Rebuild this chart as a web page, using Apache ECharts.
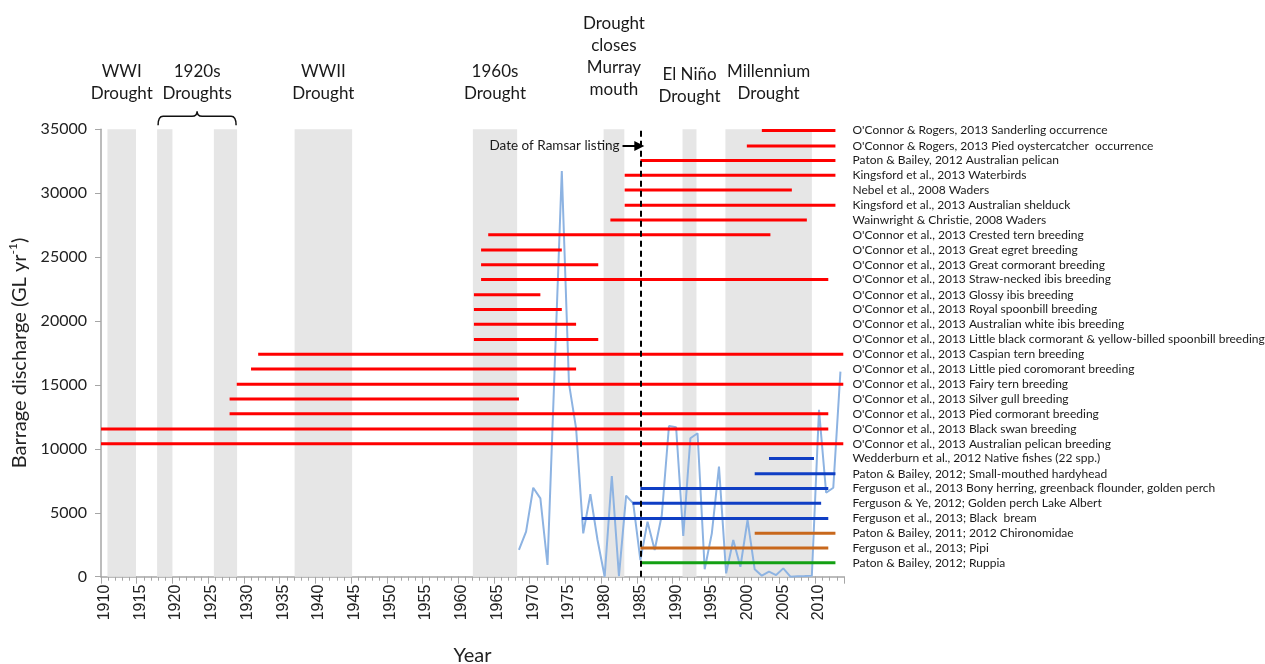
<!DOCTYPE html>
<html><head><meta charset="utf-8">
<script src="https://cdn.jsdelivr.net/npm/echarts@6/dist/echarts.min.js"></script>
<style>html,body{margin:0;padding:0;background:#fff}#c{width:1265px;height:664px}</style>
</head><body><div id="c"></div>
<script>
// ---- Data ----
const tickYears = [];
for (let y = 1910; y <= 2013; y++) tickYears.push(String(y));

const dischargeYears = [1968,1969,1970,1971,1972,1973,1974,1975,1976,1977,1978,1979,1980,1981,1982,1983,1984,1985,1986,1987,1988,1989,1990,1991,1992,1993,1994,1995,1996,1997,1998,1999,2000,2001,2002,2003,2004,2005,2006,2007,2008,2009,2010,2011,2012,2013];
const dischargeGL = [2090,3520,6960,6130,915,16300,31740,15130,11610,3390,6450,2870,0,7880,50,6340,5740,1300,4300,2090,4830,11790,11690,3180,10830,11220,580,3390,8610,260,2870,780,4440,580,80,390,130,650,0,30,50,80,13050,6570,6960,16040];

// Drought shading (grey bands), in years
const droughtStart = [1910.4, 1917.35, 1925.3, 1936.6, 1961.55, 1979.85, 1990.9, 1996.9];
const droughtEnd   = [1914.4, 1919.5, 1928.55, 1944.65, 1967.75, 1982.75, 1992.85, 2009.0];

// Drought titles above the chart, each spanning a year range
const titleText  = ['WWI\nDrought', '1920s\nDroughts', 'WWII\nDrought', '1960s\nDrought', 'Drought\ncloses\nMurray\nmouth', 'El Niño\nDrought', 'Millennium\nDrought'];
const titleStart = [1910.4, 1917.35, 1936.6, 1961.55, 1979.85, 1990.9, 1996.9];
const titleEnd   = [1914.4, 1928.55, 1944.65, 1967.75, 1982.75, 1992.85, 2009.0];
const braceSpan  = [[1917.35, 1928.55]];

const ramsarYear = 1985;
const ramsarArrowStart = 1982.5;
const ramsarArrowY = 33700;

// Study periods
const studyLabels = [
 "O'Connor & Rogers, 2013 Sanderling occurrence",
 "O'Connor & Rogers, 2013 Pied oystercatcher  occurrence",
 "Paton & Bailey, 2012 Australian pelican",
 "Kingsford et al., 2013 Waterbirds",
 "Nebel et al., 2008 Waders",
 "Kingsford et al., 2013 Australian shelduck",
 "Wainwright & Christie, 2008 Waders",
 "O'Connor et al., 2013 Crested tern breeding",
 "O'Connor et al., 2013 Great egret breeding",
 "O'Connor et al., 2013 Great cormorant breeding",
 "O'Connor et al., 2013 Straw-necked ibis breeding",
 "O'Connor et al., 2013 Glossy ibis breeding",
 "O'Connor et al., 2013 Royal spoonbill breeding",
 "O'Connor et al., 2013 Australian white ibis breeding",
 "O'Connor et al., 2013 Little black cormorant & yellow-billed spoonbill breeding",
 "O'Connor et al., 2013 Caspian tern breeding",
 "O'Connor et al., 2013 Little pied coromorant breeding",
 "O'Connor et al., 2013 Fairy tern breeding",
 "O'Connor et al., 2013 Silver gull breeding",
 "O'Connor et al., 2013 Pied cormorant breeding",
 "O'Connor et al., 2013 Black swan breeding",
 "O'Connor et al., 2013 Australian pelican breeding",
 "Wedderburn et al., 2012 Native fishes (22 spp.)",
 "Paton & Bailey, 2012; Small-mouthed hardyhead",
 "Ferguson et al., 2013 Bony herring, greenback flounder, golden perch",
 "Ferguson & Ye, 2012; Golden perch Lake Albert",
 "Ferguson et al., 2013; Black  bream",
 "Paton & Bailey, 2011; 2012 Chironomidae",
 "Ferguson et al., 2013; Pipi",
 "Paton & Bailey, 2012; Ruppia"
];
const studyY = [34900,33700,32550,31400,30250,29050,27900,26750,25550,24400,23250,22050,20900,19750,18550,17400,16250,15050,13900,12750,11550,10400,9250,8050,6900,5750,4550,3400,2250,1100];
const studyStart = [2002.0,1999.9,1985.0,1982.8,1982.8,1982.8,1980.8,1963.7,1962.7,1962.7,1962.7,1961.7,1961.7,1961.7,1961.7,1931.5,1930.5,1928.5,1927.5,1927.5,1909.5,1909.5,2003.0,2001.0,1985.0,1983.9,1976.8,2001.0,1985.0,1985.0];
const studyEnd   = [2012.3,2012.3,2012.3,2012.3,2006.2,2012.3,2008.3,2003.2,1974.0,1979.1,2011.3,1971.0,1974.0,1976.0,1979.1,2013.4,1976.0,2013.4,1968.0,2011.3,2011.3,2013.4,2009.3,2012.3,2011.3,2010.3,2011.3,2012.3,2011.3,2012.3];
const studyGroup = ['bird','bird','bird','bird','bird','bird','bird','bird','bird','bird','bird','bird','bird','bird','bird','bird','bird','bird','bird','bird','bird','bird','fish','fish','fish','fish','fish','invert','invert','plant'];

// ---- Styles ----
const groupColor = {bird:'#ff0000', fish:'#0f3ec4', invert:'#c8681c', plant:'#13a013'};
const FONT = 'Lato, "Open Sans", sans-serif';
const xMin = 1909.5, xMax = 2013.5;

const chart = echarts.init(document.getElementById('c'), null, {renderer:'canvas'});

const areaData = [];
droughtStart.forEach((s, i) => {
  areaData.push([{xAxis: s, yAxis: 0, itemStyle:{color:'#e6e6e6'}, label:{show:false}}, {xAxis: droughtEnd[i], yAxis: 35000}]);
});
const titleDist = [25, 25, 25, 25, 29, 22, 25];
titleText.forEach((t, i) => {
  areaData.push([{xAxis: titleStart[i], yAxis: 0, name: t, itemStyle:{color:'rgba(0,0,0,0)'},
    label:{show:true, position:'top', distance: titleDist[i]}}, {xAxis: titleEnd[i], yAxis: 35000}]);
});

const option = {
  animation: false,
  grid: {left: 101, right: 421, top: 129.3, bottom: 87.3, containLabel: false, outerBoundsMode: 'none'},
  xAxis: [
    {type:'value', min:xMin, max:xMax, show:false},
    {type:'category', data: tickYears, boundaryGap: true, position:'bottom',
      axisLine:{show:true, lineStyle:{color:'#a6a6a6', width:1.5}},
      axisTick:{show:true, interval:0, length:4, lineStyle:{color:'#a6a6a6'}},
      axisLabel:{interval:4, rotate:90, margin:8, fontSize:16, color:'#222', fontFamily:'"Liberation Sans", Arial, sans-serif'},
      splitLine:{show:false},
      name:'Year', nameLocation:'middle', nameGap:69,
      nameTextStyle:{fontSize:20, color:'#222', fontFamily:FONT}},
    {type:'category', data: tickYears, boundaryGap: true, position:'bottom',
      axisLine:{show:false}, axisLabel:{show:false},
      axisTick:{show:true, interval:4, length:7, lineStyle:{color:'#a6a6a6'}}, splitLine:{show:false}}
  ],
  yAxis: {type:'value', min:0, max:35000, interval:5000,
    axisLine:{show:true, lineStyle:{color:'#a6a6a6', width:1.5}},
    axisTick:{show:true, length:6, lineStyle:{color:'#a6a6a6'}},
    axisLabel:{fontSize:16, color:'#222', margin:14, fontFamily:FONT, formatter: v => String(v)},
    splitLine:{show:false},
    name:'{a|Barrage discharge (GL yr}{b|-1}{a|)}', nameLocation:'middle', nameGap:66, nameRotate:90,
    nameTextStyle:{rich:{a:{fontSize:20, color:'#222', fontFamily:FONT, lineHeight:26},
                         b:{fontSize:12, color:'#222', fontFamily:FONT, verticalAlign:'top', lineHeight:14}}}},
  series: [
    {type:'line', name:'discharge', xAxisIndex:0, yAxisIndex:0, z:2,
      data: dischargeYears.map((y, i) => [y, dischargeGL[i]]),
      showSymbol:false, symbol:'none',
      lineStyle:{color:'#8db3e2', width:2},
      markArea:{silent:true, label:{fontSize:17, lineHeight:22, color:'#1a1a1a', fontFamily:FONT}, data: areaData}},
    {type:'custom', xAxisIndex:0, yAxisIndex:0, z:3,
      data: studyLabels.map((l, i) => [studyStart[i], studyY[i], studyEnd[i], i]),
      encode:{x:0, y:1},
      renderItem(params, api){
        const i = api.value(3);
        const y = api.value(1);
        const p1 = api.coord([api.value(0), y]);
        const p2 = api.coord([api.value(2), y]);
        const pe = api.coord([xMax, y]);
        return {type:'group', children:[
          {type:'line', shape:{x1:p1[0], y1:p1[1], x2:p2[0], y2:p2[1]},
            style:{stroke: groupColor[studyGroup[i]], lineWidth:3}},
          {type:'text', x: pe[0] + 8.5, y: pe[1],
            style:{text: studyLabels[i], fill:'#1a1a1a', fontSize:12, fontFamily:FONT, align:'left', verticalAlign:'middle'}}
        ]};
      }},
    {type:'custom', xAxisIndex:0, yAxisIndex:0, z:3, clip:false,
      data: braceSpan, encode:{x:[0,1]},
      renderItem(params, api){
        const a = api.coord([api.value(0), 35000]);
        const b = api.coord([api.value(1), 35000]);
        const x1 = a[0] + 1, x2 = b[0] - 1, xm = (x1 + x2) / 2;
        const yEnd = a[1] - 4, yH = a[1] - 13, yTip = a[1] - 18, r = 5;
        const d = `M${x1},${yEnd} Q${x1},${yH} ${x1+r},${yH} L${xm-r},${yH} Q${xm},${yH} ${xm},${yTip} Q${xm},${yH} ${xm+r},${yH} L${x2-r},${yH} Q${x2},${yH} ${x2},${yEnd}`;
        return {type:'path', shape:{pathData:d}, style:{stroke:'#111', fill:'none', lineWidth:1.5}};
      }},
    {type:'line', name:'markers', xAxisIndex:0, yAxisIndex:0, z:5, data:[], symbol:'none',
      markLine:{silent:true, symbol:['none','none'],
        data:[
          [{coord:[ramsarYear, 0], lineStyle:{type:[6,4], color:'#000', width:2}, label:{show:false}}, {coord:[ramsarYear, 35000]}],
          [{coord:[ramsarArrowStart, ramsarArrowY], lineStyle:{type:'solid', color:'#000', width:2},
            label:{show:true, position:'start', distance:3, formatter:'Date of Ramsar listing', fontSize:13.5, color:'#1a1a1a', fontFamily:FONT}},
           {coord:[ramsarYear - 0.15, ramsarArrowY], symbol:'triangle', symbolSize:[10,10]}]
        ]}}
  ]
};
chart.setOption(option);
</script></body></html>
